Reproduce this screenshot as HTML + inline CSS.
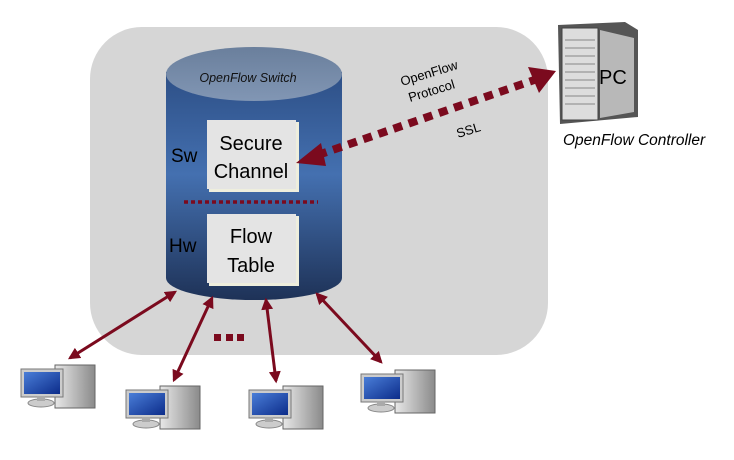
<!DOCTYPE html>
<html><head><meta charset="utf-8"><style>
body{margin:0;background:#fff;}
svg{display:block;font-family:"Liberation Sans",sans-serif;}
</style></head><body>
<svg width="734" height="460" viewBox="0 0 734 460">
<defs>
<linearGradient id="cyl" x1="0" y1="0" x2="0" y2="1">
<stop offset="0" stop-color="#2d4f86"/><stop offset="0.45" stop-color="#4470b0"/><stop offset="1" stop-color="#1e3257"/>
</linearGradient>
<linearGradient id="top" x1="0" y1="0" x2="0" y2="1">
<stop offset="0" stop-color="#6a7f9c"/><stop offset="1" stop-color="#8196b4"/>
</linearGradient>
<linearGradient id="scr" x1="0" y1="0" x2="1" y2="1">
<stop offset="0" stop-color="#4a7ed8"/><stop offset="1" stop-color="#0c2c8a"/>
</linearGradient>
<linearGradient id="tw" x1="0" y1="0" x2="1" y2="0">
<stop offset="0" stop-color="#e8e8e8"/><stop offset="1" stop-color="#8a8a8a"/>
</linearGradient>
<marker id="ahb" viewBox="0 0 10 10" refX="8" refY="5" markerWidth="4" markerHeight="4" orient="auto-start-reverse">
<path d="M0,0 L10,5 L0,10 z" fill="#7b0a1e"/></marker>
<g id="pc">
<rect x="36" y="0" width="40" height="43" fill="url(#tw)" stroke="#666" stroke-width="1"/>
<rect x="2" y="4" width="42" height="28" fill="#ccc" stroke="#777"/>
<rect x="5" y="7" width="36" height="22" fill="url(#scr)"/>
<ellipse cx="22" cy="38" rx="13" ry="4" fill="#ccc" stroke="#888"/>
<rect x="18" y="31" width="8" height="5" fill="#aaa"/>
</g>
</defs>
<rect x="90" y="27" width="458" height="328" rx="52" fill="#d6d6d6"/>
<path d="M166,72 L166,278 A88,22 0 0 0 342,278 L342,72 Z" fill="url(#cyl)"/>
<ellipse cx="254" cy="74" rx="88" ry="27" fill="url(#top)"/>
<text x="248" y="82" font-size="12.5" font-style="italic" text-anchor="middle" fill="#111">OpenFlow Switch</text>
<rect x="209" y="122" width="90" height="70" fill="#eeeedd"/>
<rect x="207" y="120" width="89" height="69" fill="#e4e4e4"/>
<text x="251" y="150" font-size="20" text-anchor="middle">Secure</text>
<text x="251" y="178" font-size="20" text-anchor="middle">Channel</text>
<rect x="209" y="216" width="90" height="70" fill="#eeeedd"/>
<rect x="207" y="214" width="89" height="69" fill="#e4e4e4"/>
<text x="251" y="243" font-size="20" text-anchor="middle">Flow</text>
<text x="251" y="272" font-size="20" text-anchor="middle">Table</text>
<text x="171" y="162" font-size="19">Sw</text>
<text x="169" y="252" font-size="19">Hw</text>
<line x1="184" y1="202" x2="318" y2="202" stroke="#7b0a1e" stroke-width="3.5" stroke-dasharray="4,3"/>
<line x1="318" y1="155" x2="540" y2="78" stroke="#7b0a1e" stroke-width="8" stroke-dasharray="9,7"/>
<path d="M296,163 L321,143 L326,166 Z" fill="#7b0a1e"/>
<path d="M556,71 L528,67 L539,93 Z" fill="#7b0a1e"/>
<text transform="translate(402,86) rotate(-17)" font-size="13">OpenFlow</text>
<text transform="translate(410,102) rotate(-17)" font-size="13">Protocol</text>
<text transform="translate(458,138) rotate(-17)" font-size="13">SSL</text>
<path d="M558,25 L625,22 L638,30 L638,117 L560,124 Z" fill="#555"/>
<path d="M600,30 L634,38 L634,112 L600,118 Z" fill="#b8b8b8"/>
<rect x="562" y="28" width="36" height="92" fill="#ddd" stroke="#444"/>
<g stroke="#888" stroke-width="1">
<line x1="565" y1="40" x2="595" y2="40"/><line x1="565" y1="48" x2="595" y2="48"/><line x1="565" y1="56" x2="595" y2="56"/><line x1="565" y1="64" x2="595" y2="64"/><line x1="565" y1="72" x2="595" y2="72"/><line x1="565" y1="80" x2="595" y2="80"/><line x1="565" y1="88" x2="595" y2="88"/><line x1="565" y1="96" x2="595" y2="96"/><line x1="565" y1="104" x2="595" y2="104"/>
</g>
<text x="599" y="84" font-size="20">PC</text>
<text x="563" y="145" font-size="15.5" font-style="italic">OpenFlow Controller</text>
<g stroke="#7b0a1e" stroke-width="3">
<line x1="175" y1="292" x2="70" y2="358" marker-start="url(#ahb)" marker-end="url(#ahb)"/>
<line x1="212" y1="298" x2="174" y2="380" marker-start="url(#ahb)" marker-end="url(#ahb)"/>
<line x1="266" y1="300" x2="276" y2="381" marker-start="url(#ahb)" marker-end="url(#ahb)"/>
<line x1="317" y1="294" x2="381" y2="362" marker-start="url(#ahb)" marker-end="url(#ahb)"/>
</g>
<rect x="214" y="334" width="7" height="7" fill="#7b0a1e"/>
<rect x="226" y="334" width="7" height="7" fill="#7b0a1e"/>
<rect x="237" y="334" width="7" height="7" fill="#7b0a1e"/>
<use href="#pc" x="19" y="365"/>
<use href="#pc" x="124" y="386"/>
<use href="#pc" x="247" y="386"/>
<use href="#pc" x="359" y="370"/>
</svg>
</body></html>
